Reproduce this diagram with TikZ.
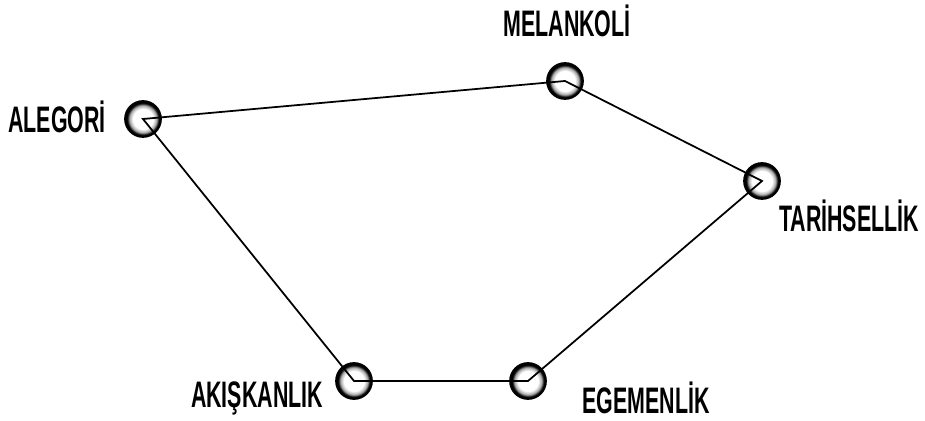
\documentclass[tikz,border=0pt]{standalone}
\usepackage{fontspec}
\setmainfont[FakeStretch=0.58]{Liberation Sans}
\usepackage{tikz}
\usetikzlibrary{positioning}
\pgfdeclareradialshading{ringball}{\pgfpoint{0bp}{0bp}}{color(0bp)=(white); color(14bp)=(white); color(19bp)=(gray!70); color(22bp)=(black); color(25bp)=(black); color(50bp)=(black)}

\begin{document}
\begin{tikzpicture}[x=0.02cm, y=-0.02cm, every node/.style={font=\fontsize{21}{25}\selectfont\bfseries},
  halka/.style={circle, minimum size=0.72cm, inner sep=0pt, shading=ringball, draw=black, line width=1pt},
  baglanti/.style={line width=1pt, black}]
	\useasboundingbox (0,0) rectangle (925,421);
	% halkalar
	\node[halka] (alegori) at (143,119) {};
	\node[halka] (melankoli) at (565,81) {};
	\node[halka] (tarihsellik) at (762,181) {};
	\node[halka] (egemenlik) at (528,381) {};
	\node[halka] (akiskanlik) at (354,381) {};
	% baglantilar
	\draw[baglanti] (alegori.center) -- (melankoli.center) -- (tarihsellik.center) -- (egemenlik.center) -- (akiskanlik.center) -- cycle;
	% etiketler
	\node (alegoriL) at (57,117) {ALEGORİ};
	\node (melankoliL) at (567,21) {MELANKOLİ};
	\node (tarihsellikL) at (849,216) {TARİHSELLİK};
	\node (akiskanlikL) at (257,398) {AKIŞKANLIK};
	\node (egemenlikL) at (646,398) {EGEMENLİK};
\end{tikzpicture}
\end{document}
